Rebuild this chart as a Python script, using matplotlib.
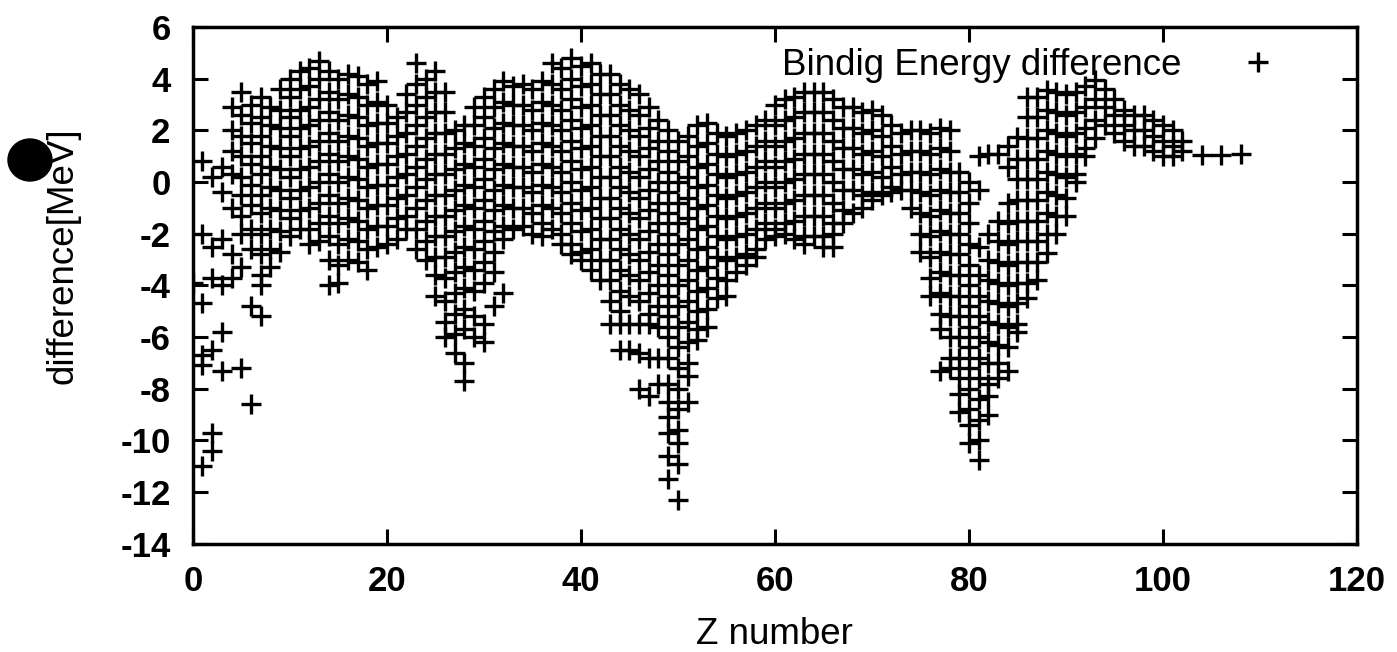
import matplotlib
matplotlib.use("Agg")
import matplotlib.pyplot as plt
from matplotlib.patches import Ellipse

plt.rcParams['font.family'] = ['Liberation Sans', 'DejaVu Sans']
plt.rcParams['axes.unicode_minus'] = False

z_numbers = list(range(0, 103)) + [104, 106, 108]
diff_by_z = [
    [-3.9],
    [0.8, -2.0, -4.7, -6.7, -7.1, -11.0],
    [0.2, -2.5, -3.7, -6.5, -9.7, -10.4],
    [0.6, -0.4, -2.2, -4.0, -5.8, -7.3],
    [2.9, 2.0, 1.2, 0.3, -1.0, -2.8, -3.7],
    [3.5, 2.6, 1.8, 1.0, 0.2, -0.5, -1.3, -2.0, -3.3, -7.2],
    [3.0, 2.3, 1.5, 0.7, -0.1, -0.9, -1.8, -2.6, -4.8, -8.6],
    [3.3, 2.5, 1.8, 1.0, 0.3, -0.5, -1.2, -2.0, -2.8, -3.6, -4.0, -5.2],
    [2.9, 2.2, 1.4, 0.6, -0.2, -1.0, -1.8, -2.6, -3.3],
    [3.6, 2.8, 2.1, 1.3, 0.5, -0.3, -1.1, -1.9, -2.7],
    [4.0, 3.3, 2.5, 1.8, 1.0, 0.2, -0.6, -1.4, -2.1],
    [4.3, 3.6, 2.8, 2.1, 1.3, 0.5, -0.3, -1.1, -1.8],
    [4.4, 3.7, 2.9, 2.2, 1.4, 0.6, -0.2, -1.0, -1.8, -2.4],
    [4.7, 4.0, 3.2, 2.4, 1.6, 0.8, 0.0, -0.8, -1.6, -2.3],
    [4.3, 3.5, 2.7, 1.9, 1.1, 0.3, -0.5, -1.3, -2.1, -3.0, -4.0],
    [4.0, 3.2, 2.4, 1.6, 0.8, 0.0, -0.8, -1.6, -2.4, -3.2, -3.9],
    [4.2, 3.4, 2.6, 1.8, 1.0, 0.2, -0.6, -1.4, -2.2, -3.0],
    [4.1, 3.3, 2.5, 1.7, 0.9, 0.1, -0.7, -1.5, -2.3, -3.1],
    [3.8, 3.0, 2.2, 1.4, 0.6, -0.2, -1.0, -1.8, -2.6, -3.4],
    [3.9, 3.1, 2.3, 1.5, 0.7, -0.1, -0.9, -1.7, -2.5],
    [3.0, 2.3, 1.5, 0.7, -0.1, -0.9, -1.7, -2.4],
    [2.5, 1.8, 1.0, 0.2, -0.6, -1.4, -2.2],
    [3.4, 2.7, 1.9, 1.1, 0.3, -0.5, -1.3, -1.8],
    [4.6, 3.8, 3.0, 2.2, 1.4, 0.6, -0.2, -1.0, -1.8, -2.6],
    [4.0, 3.3, 2.5, 1.7, 0.9, 0.1, -0.7, -1.5, -2.3, -3.0],
    [4.3, 3.5, 2.7, 1.9, 1.1, 0.3, -0.5, -1.3, -2.1, -2.9, -3.6, -4.4],
    [3.5, 2.7, 1.9, 1.1, 0.3, -0.5, -1.3, -2.1, -2.9, -3.7, -4.6, -5.4, -6.0],
    [2.0, 1.3, 0.5, -0.3, -1.1, -1.9, -2.7, -3.5, -4.3, -5.1, -5.9, -6.6],
    [2.2, 1.5, 0.7, -0.1, -0.9, -1.7, -2.5, -3.3, -4.1, -4.9, -5.7, -7.0, -7.7],
    [2.9, 2.2, 1.4, 0.6, -0.2, -1.0, -1.8, -2.6, -3.4, -4.2, -5.2, -6.0],
    [3.3, 2.5, 1.7, 0.9, 0.1, -0.7, -1.5, -2.3, -3.1, -3.9, -5.5, -6.2],
    [3.6, 2.9, 2.1, 1.3, 0.5, -0.3, -1.1, -1.9, -2.7, -3.5, -4.8],
    [3.9, 3.1, 2.3, 1.5, 0.7, -0.1, -0.9, -1.7, -2.2, -4.3],
    [3.7, 3.0, 2.2, 1.4, 0.6, -0.2, -1.0, -1.8],
    [3.8, 3.0, 2.2, 1.4, 0.6, -0.2, -1.0, -1.7],
    [3.6, 2.8, 2.0, 1.2, 0.4, -0.4, -1.2, -2.0],
    [3.9, 3.1, 2.3, 1.5, 0.7, -0.1, -0.9, -1.6, -2.1],
    [4.6, 3.8, 3.0, 2.2, 1.4, 0.6, -0.2, -1.0, -1.8],
    [4.4, 3.6, 2.8, 2.0, 1.2, 0.4, -0.4, -1.2, -2.0, -2.4],
    [4.8, 4.0, 3.2, 2.4, 1.6, 0.8, 0.0, -0.8, -1.6, -2.4, -2.8],
    [4.5, 3.7, 2.9, 2.1, 1.3, 0.5, -0.3, -1.1, -1.9, -2.7, -3.0],
    [4.6, 3.8, 3.0, 2.2, 1.4, 0.6, -0.2, -1.0, -1.8, -2.6, -3.4],
    [4.2, 3.4, 2.6, 1.8, 1.0, 0.2, -0.6, -1.4, -2.2, -3.0, -3.8],
    [4.2, 3.4, 2.6, 1.8, 1.0, 0.2, -0.6, -1.4, -2.2, -3.0, -3.8, -4.6, -5.5],
    [3.8, 3.0, 2.2, 1.4, 0.6, -0.2, -1.0, -1.8, -2.6, -3.4, -4.2, -5.0, -5.5, -6.5],
    [3.6, 2.8, 2.0, 1.2, 0.4, -0.4, -1.2, -2.0, -2.8, -3.6, -4.4, -5.5, -6.5],
    [3.4, 2.6, 1.8, 1.0, 0.2, -0.6, -1.4, -2.2, -3.0, -3.8, -4.6, -5.5, -6.6, -8.0],
    [2.9, 2.1, 1.3, 0.5, -0.3, -1.1, -1.9, -2.7, -3.5, -4.3, -5.1, -5.5, -6.8, -8.3],
    [2.4, 1.6, 0.8, 0.0, -0.8, -1.6, -2.4, -3.2, -4.0, -4.8, -5.6, -6.8, -7.8],
    [2.0, 1.2, 0.4, -0.4, -1.2, -2.0, -2.8, -3.6, -4.4, -5.2, -6.0, -6.8, -7.8, -8.5,
     -9.1, -9.7, -10.6, -11.5],
    [1.6, 0.8, 0.0, -0.8, -1.6, -2.4, -3.2, -4.0, -4.8, -5.6, -6.4, -7.2, -8.0, -8.8,
     -9.6, -10.1, -10.9, -12.3],
    [1.8, 1.0, 0.2, -0.6, -1.4, -2.2, -3.0, -3.8, -4.6, -5.4, -6.2, -7.0, -7.5, -8.5],
    [2.2, 1.4, 0.6, -0.2, -1.0, -1.8, -2.6, -3.4, -4.2, -5.0, -5.7, -6.1],
    [2.3, 1.5, 0.7, -0.1, -0.9, -1.7, -2.5, -3.3, -4.1, -4.9, -5.6],
    [1.9, 1.1, 0.3, -0.5, -1.3, -2.1, -2.9, -3.7, -4.5],
    [1.8, 1.0, 0.2, -0.6, -1.4, -2.2, -3.0, -3.8, -4.4],
    [1.9, 1.1, 0.3, -0.5, -1.3, -2.1, -2.9, -3.5],
    [2.0, 1.2, 0.4, -0.4, -1.2, -2.0, -2.8, -3.2],
    [2.2, 1.4, 0.6, -0.2, -1.0, -1.8, -2.6, -2.9],
    [2.4, 1.6, 0.8, 0.0, -0.8, -1.6, -2.2],
    [3.0, 2.2, 1.4, 0.6, -0.2, -1.0, -1.8, -2.1],
    [3.2, 2.4, 1.6, 0.8, 0.0, -0.8, -1.6, -2.0],
    [3.3, 2.5, 1.7, 0.9, 0.1, -0.7, -1.5, -2.2],
    [3.5, 2.7, 1.9, 1.1, 0.3, -0.5, -1.3, -2.1, -2.4],
    [3.5, 2.7, 1.9, 1.1, 0.3, -0.5, -1.3, -2.1],
    [3.5, 2.7, 1.9, 1.1, 0.3, -0.5, -1.3, -2.1, -2.5],
    [3.2, 2.4, 1.6, 0.8, 0.0, -0.8, -1.6, -2.0, -2.5],
    [2.9, 2.1, 1.3, 0.5, -0.3, -1.1, -1.6],
    [2.9, 2.1, 1.3, 0.5, -0.3, -1.2],
    [2.7, 1.9, 1.1, 0.3, -0.5, -1.0],
    [2.8, 2.0, 1.2, 0.4, -0.4, -0.7],
    [2.6, 1.8, 1.0, 0.2, -0.5],
    [2.2, 1.4, 0.6, -0.2, -0.4],
    [1.9, 1.1, 0.3, -0.3],
    [2.0, 1.2, 0.4, -0.3, -1.0],
    [2.0, 1.2, 0.4, -0.4, -1.2, -2.0, -2.7],
    [1.9, 1.1, 0.3, -0.5, -1.3, -2.1, -2.9, -3.7, -4.4],
    [2.1, 1.3, 0.5, -0.3, -1.1, -1.9, -2.7, -3.5, -4.3, -5.1, -5.7, -7.3],
    [2.0, 1.2, 0.4, -0.4, -1.2, -2.0, -2.8, -3.6, -4.4, -5.2, -6.0, -6.8, -7.2],
    [0.4, -0.4, -1.2, -2.0, -2.8, -3.6, -4.4, -5.2, -6.0, -6.8, -7.6, -8.2, -8.9],
    [0.0, -0.8, -1.6, -2.4, -3.2, -4.0, -4.8, -5.6, -6.4, -7.2, -8.0, -8.8, -9.4, -10.1],
    [1.0, -0.3, -2.5, -3.6, -4.4, -5.2, -6.0, -6.8, -7.6, -8.4, -9.2, -10.0, -10.75],
    [1.1, -2.0, -3.0, -3.8, -4.6, -5.4, -6.2, -7.0, -7.8, -8.3, -9.0],
    [1.1, -1.5, -2.3, -3.1, -3.9, -4.7, -5.5, -6.3, -7.0, -7.6],
    [1.4, 0.6, -0.8, -1.6, -2.4, -3.2, -4.0, -4.8, -5.6, -6.4, -7.3],
    [1.75, 0.9, 0.1, -0.7, -1.5, -2.3, -3.1, -3.9, -4.7, -5.5, -5.8],
    [3.3, 2.5, 1.7, 0.9, 0.1, -0.7, -1.5, -2.3, -3.1, -3.9, -4.5],
    [3.3, 2.5, 1.7, 0.9, 0.1, -0.7, -1.5, -2.3, -3.1, -3.8],
    [3.55, 2.8, 2.0, 1.2, 0.4, -0.4, -1.2, -2.0, -2.75],
    [3.5, 2.7, 1.9, 1.1, 0.3, -0.5, -1.3, -2.0],
    [3.4, 2.6, 1.8, 1.0, 0.2, -0.6, -1.3],
    [3.5, 2.7, 1.9, 1.1, 0.3, 0.0],
    [3.7, 2.9, 2.1, 1.3, 1.0],
    [3.95, 3.2, 2.4, 1.7],
    [3.6, 2.9, 2.2],
    [3.2, 2.6, 1.9],
    [2.8, 2.2, 1.6],
    [2.6, 2.0, 1.4],
    [2.6, 2.0, 1.4],
    [2.4, 1.8, 1.2],
    [2.2, 1.6, 1.0],
    [2.0, 1.4, 1.0],
    [1.6, 1.2],
    [1.05],
    [1.05],
    [1.1],
]

x_ticks = [0, 20, 40, 60, 80, 100, 120]
y_ticks = [6, 4, 2, 0, -2, -4, -6, -8, -10, -12, -14]

xs, ys = [], []
for z, vals in zip(z_numbers, diff_by_z):
    for v in vals:
        xs.append(z)
        ys.append(v)

fig = plt.figure(figsize=(13.97, 6.52), dpi=100)
ax = fig.add_axes([0.138, 0.166, 0.8334, 0.7926])

ax.plot(xs, ys, linestyle='none', marker='+', color='black',
        markersize=15, markeredgewidth=2.4, label='Bindig Energy difference')

ax.set_xlim(0, 120)
ax.set_ylim(-14, 6)
ax.set_xticks(x_ticks)
ax.set_yticks(y_ticks)
ax.tick_params(direction='in', length=11, width=2.2, top=True, right=True,
               labelsize=25)
ax.tick_params(axis='x', pad=15)
ax.tick_params(axis='y', pad=16)
for lab in ax.get_xticklabels() + ax.get_yticklabels():
    lab.set_fontweight('bold')
for sp in ax.spines.values():
    sp.set_linewidth(2.5)

ax.set_xlabel('Z number', fontsize=26.5, labelpad=14)
fig.text(63 / 1397, 1 - 256 / 652, 'difference[MeV]', fontsize=26.5,
         rotation=90, ha='center', va='center')

ax.legend(loc='upper right', bbox_to_anchor=(0.9596, 0.988), borderaxespad=0,
          frameon=False, markerfirst=False, fontsize=26.5,
          handlelength=2.0, handletextpad=1.1)

# scanner blot next to the y label
fig.patches.append(Ellipse((30 / 1397, 1 - 160 / 652), 44 / 1397, 42 / 652,
                           transform=fig.transFigure, color='black'))

fig.savefig('out.png', dpi=100)
